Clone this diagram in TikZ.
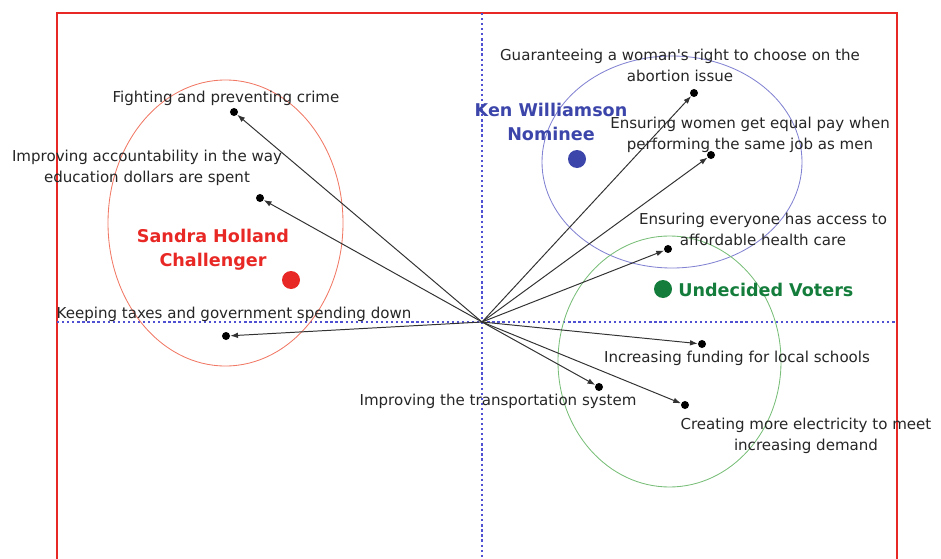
\documentclass[tikz,border=0pt]{standalone}
\usepackage{fontspec}
\setmainfont{DejaVu Sans}
\usetikzlibrary{arrows.meta}
\definecolor{framered}{RGB}{232,40,36}
\definecolor{ringred}{RGB}{240,120,100}
\definecolor{axisblue}{RGB}{80,80,210}
\definecolor{nameblue}{RGB}{60,70,170}
\definecolor{ringblue}{RGB}{130,130,210}
\definecolor{namegreen}{RGB}{20,125,60}
\definecolor{ringgreen}{RGB}{120,190,120}
\definecolor{arrowgray}{RGB}{50,50,50}
\begin{document}
\begin{tikzpicture}[x=0.025cm, y=-0.025cm, >={Latex[length=5.5pt,width=4pt]},
		issue/.style={font=\fontsize{10.7}{14.9}\selectfont, align=center, inner sep=0pt, text=black!85},
		cand/.style={font=\fontsize{12.5}{17}\selectfont\bfseries, align=center, inner sep=0pt},
		dot/.style={circle, fill=black, inner sep=0pt, minimum size=5.7pt},
		bigdot/.style={circle, inner sep=0pt, minimum size=12.8pt},
		pull/.style={->, arrowgray, line width=0.7pt}]
		\useasboundingbox (0,0) rectangle (941,559);
		
		% frame and axes
		\draw[framered, line width=1.4pt] (57,559) -- (57,13) -- (897,13) -- (897,559);
		\draw[axisblue, dotted, line width=1.6pt] (482,13) -- (482,559);
		\draw[axisblue, dotted, line width=1.6pt] (57,322) -- (897,322);
		
		% candidate rings
		\draw[ringred, line width=0.6pt] (225.5,223) ellipse [x radius=117.5, y radius=143];
		\draw[ringblue, line width=0.6pt] (672,162) ellipse [x radius=130, y radius=106];
		\draw[ringgreen, line width=0.6pt] (669.5,361.5) ellipse [x radius=111.5, y radius=125.5];
		
		% issues
		\coordinate (o) at (482,322);
		\node[dot] (crime) at (234,112) {};
		\node[dot] (account) at (260,198) {};
		\node[dot] (taxes) at (226,336) {};
		\node[dot] (abortion) at (694,93) {};
		\node[dot] (pay) at (711,155) {};
		\node[dot] (health) at (668,249) {};
		\node[dot] (schools) at (702,344) {};
		\node[dot] (transport) at (599,387) {};
		\node[dot] (power) at (685,405) {};
		
		\node[issue] (crimetext) at (226,98) {Fighting and preventing crime};
		\node[issue] (accounttext) at (147,168) {Improving accountability in the way\\education dollars are spent};
		\node[issue] (taxestext) at (234,314) {Keeping taxes and government spending down};
		\node[issue] (abortiontext) at (680,65) {Guaranteeing a woman\textquotesingle s right to choose on the\\abortion issue};
		\node[issue] (paytext) at (750,135) {Ensuring women get equal pay when\\performing the same job as men};
		\node[issue] (healthtext) at (763,229) {Ensuring everyone has access to\\affordable health care};
		\node[issue] (schoolstext) at (737,358) {Increasing funding for local schools};
		\node[issue] (transporttext) at (498,401) {Improving the transportation system};
		\node[issue] (powertext) at (806,436) {Creating more electricity to meet\\increasing demand};
		
		\foreach \i in {crime, account, taxes, abortion, pay, health, schools, transport, power}
			\draw[pull] (o) -- (\i);
		
		% candidates
		\node[bigdot, fill=framered] (sandra) at (291,280) {};
		\node[cand, text=framered] (sandratext) at (213,250) {Sandra Holland\\Challenger};
		\node[bigdot, fill=nameblue] (ken) at (577,159) {};
		\node[cand, text=nameblue] (kentext) at (551,122) {Ken Williamson\\Nominee};
		\node[bigdot, fill=namegreen] (undecided) at (663,289) {};
		\node[cand, text=namegreen, anchor=west] (undecidedtext) at (678,290) {Undecided Voters};
	\end{tikzpicture}
\end{document}
